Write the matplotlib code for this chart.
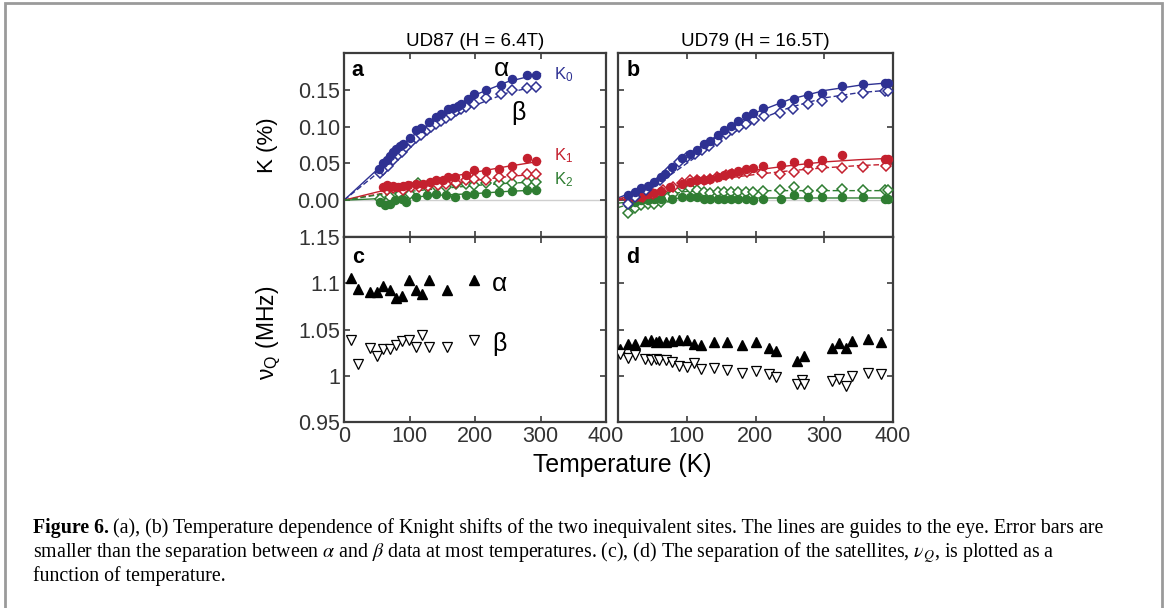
import numpy as np
import matplotlib
matplotlib.use("Agg")
import matplotlib.pyplot as plt
from matplotlib.patches import Rectangle

plt.rcParams['font.family'] = ['Liberation Sans', 'DejaVu Sans']
plt.rcParams['mathtext.fontset'] = 'stix'

# ---- Knight shift data, UD87 (panel a) ----
a_K0_alpha_T = [54, 59, 65, 70, 75, 80, 85, 90, 100, 110, 118, 130, 141, 148, 159, 166, 174, 179, 189, 199, 217, 239, 257, 279, 293]
a_K0_alpha = [0.043, 0.050, 0.054, 0.060, 0.065, 0.069, 0.073, 0.077, 0.085, 0.095, 0.098, 0.106, 0.113, 0.117, 0.124, 0.125, 0.128, 0.131, 0.137, 0.144, 0.150, 0.157, 0.164, 0.170, 0.170]
a_K0_beta_T = [55, 60, 67, 75, 83, 88, 95, 103, 110, 118, 126, 133, 141, 148, 156, 164, 171, 179, 187, 199, 217, 239, 257, 279, 293]
a_K0_beta = [0.037, 0.041, 0.047, 0.054, 0.061, 0.065, 0.072, 0.079, 0.085, 0.089, 0.095, 0.100, 0.104, 0.108, 0.112, 0.116, 0.121, 0.124, 0.127, 0.131, 0.139, 0.144, 0.150, 0.152, 0.154]
a_K1_alpha_T = [60, 65, 70, 75, 83, 90, 98, 110, 121, 131, 141, 151, 159, 169, 187, 199, 217, 237, 257, 279, 293]
a_K1_alpha = [0.018, 0.020, 0.018, 0.019, 0.018, 0.019, 0.020, 0.022, 0.022, 0.025, 0.027, 0.028, 0.031, 0.032, 0.034, 0.041, 0.040, 0.043, 0.047, 0.058, 0.053]
a_K1_beta_T = [65, 75, 90, 103, 115, 128, 143, 156, 171, 187, 199, 217, 237, 257, 279, 293]
a_K1_beta = [0.014, 0.016, 0.014, 0.018, 0.018, 0.019, 0.020, 0.022, 0.023, 0.027, 0.029, 0.027, 0.032, 0.034, 0.036, 0.036]
a_K2_alpha_T = [55, 62, 70, 78, 88, 95, 110, 126, 141, 156, 169, 187, 199, 217, 237, 257, 279, 293]
a_K2_alpha = [-0.002, -0.007, -0.005, 0.000, 0.002, -0.002, 0.005, 0.007, 0.008, 0.007, 0.005, 0.007, 0.009, 0.010, 0.011, 0.013, 0.014, 0.014]
a_K2_beta_T = [55, 70, 85, 100, 113, 126, 141, 156, 171, 187, 199, 217, 237, 257, 279, 293]
a_K2_beta = [0.001, 0.005, 0.009, 0.009, 0.023, 0.018, 0.019, 0.018, 0.022, 0.022, 0.020, 0.023, 0.023, 0.023, 0.025, 0.025]

# guide-to-the-eye curves for panel a
guide_T_a = [0, 50, 100, 150, 200, 250, 300]
a_K0_alpha_guide = [0, 0.041, 0.083, 0.117, 0.143, 0.161, 0.172]
a_K0_beta_guide = [0, 0.036, 0.073, 0.105, 0.129, 0.146, 0.156]
a_K1_alpha_guide = [0, 0.011, 0.021, 0.030, 0.038, 0.046, 0.053]
a_K1_beta_guide = [0, 0.008, 0.015, 0.021, 0.027, 0.032, 0.036]
a_K2_alpha_guide = [0, 0.002, 0.004, 0.007, 0.009, 0.012, 0.014]
a_K2_beta_guide = [0, 0.007, 0.012, 0.016, 0.020, 0.023, 0.025]

# ---- Knight shift data, UD79 (panel b) ----
b_K0_alpha_T = [14, 24, 34, 44, 53, 63, 68, 78, 93, 105, 115, 125, 134, 145, 154, 165, 175, 186, 196, 211, 237, 256, 276, 296, 326, 356, 388, 392]
b_K0_alpha = [0.007, 0.011, 0.016, 0.019, 0.025, 0.032, 0.036, 0.045, 0.058, 0.063, 0.068, 0.076, 0.081, 0.088, 0.095, 0.101, 0.108, 0.114, 0.119, 0.125, 0.132, 0.137, 0.143, 0.146, 0.155, 0.158, 0.159, 0.159]
b_K0_beta_T = [14, 24, 41, 61, 73, 88, 100, 112, 122, 132, 144, 157, 166, 176, 186, 198, 213, 235, 255, 277, 297, 326, 356, 388, 392]
b_K0_beta = [-0.005, 0.005, 0.014, 0.027, 0.038, 0.052, 0.059, 0.063, 0.068, 0.074, 0.081, 0.090, 0.095, 0.100, 0.104, 0.109, 0.115, 0.119, 0.124, 0.131, 0.135, 0.140, 0.146, 0.149, 0.148]
b_K1_alpha_T = [14, 24, 34, 44, 53, 63, 75, 93, 105, 115, 125, 134, 145, 154, 165, 175, 186, 196, 211, 237, 256, 276, 296, 326, 388, 392]
b_K1_alpha = [0.002, 0.005, 0.005, 0.008, 0.010, 0.013, 0.018, 0.022, 0.025, 0.027, 0.028, 0.029, 0.032, 0.034, 0.037, 0.040, 0.043, 0.044, 0.047, 0.048, 0.052, 0.051, 0.054, 0.061, 0.056, 0.056]
b_K1_beta_T = [36, 51, 66, 80, 93, 105, 115, 125, 134, 144, 157, 166, 176, 188, 210, 235, 256, 277, 297, 326, 356, 390]
b_K1_beta = [0.005, 0.008, 0.014, 0.018, 0.024, 0.027, 0.028, 0.028, 0.029, 0.031, 0.034, 0.036, 0.037, 0.038, 0.037, 0.036, 0.038, 0.043, 0.045, 0.044, 0.045, 0.047]
b_K2_alpha_T = [14, 24, 34, 44, 53, 63, 78, 93, 105, 115, 125, 134, 145, 154, 165, 175, 186, 196, 211, 237, 256, 276, 296, 326, 356, 388, 392]
b_K2_alpha = [-0.005, -0.002, 0.000, 0.000, 0.001, 0.001, 0.002, 0.004, 0.004, 0.004, 0.002, 0.002, 0.001, 0.001, 0.001, 0.001, 0.001, 0.000, 0.001, 0.002, 0.007, 0.004, 0.004, 0.004, 0.004, 0.002, 0.002]
b_K2_beta_T = [14, 24, 34, 44, 53, 63, 73, 80, 93, 105, 115, 125, 134, 145, 154, 165, 175, 186, 196, 211, 235, 256, 276, 296, 326, 356, 388, 392]
b_K2_beta = [-0.018, -0.011, -0.007, -0.005, -0.005, -0.002, 0.005, 0.008, 0.018, 0.016, 0.014, 0.011, 0.010, 0.011, 0.011, 0.011, 0.011, 0.011, 0.011, 0.013, 0.014, 0.018, 0.013, 0.014, 0.015, 0.014, 0.014, 0.014]

guide_T_b = [0, 50, 100, 150, 200, 250, 300, 350, 400]
b_K0_alpha_guide = [0.003, 0.022, 0.058, 0.092, 0.119, 0.137, 0.149, 0.156, 0.160]
b_K0_beta_guide = [0.000, 0.017, 0.050, 0.083, 0.108, 0.126, 0.139, 0.146, 0.150]
b_K1_alpha_guide = [0.002, 0.011, 0.022, 0.033, 0.041, 0.047, 0.052, 0.055, 0.057]
b_K1_beta_guide = [0.000, 0.009, 0.020, 0.029, 0.035, 0.040, 0.044, 0.047, 0.049]
b_K2_alpha_guide = [-0.004, 0.001, 0.003, 0.003, 0.003, 0.003, 0.003, 0.003, 0.003]
b_K2_beta_guide = [-0.010, 0.004, 0.012, 0.013, 0.013, 0.013, 0.013, 0.013, 0.013]

# ---- quadrupole frequency nu_Q ----
c_T = [11, 22, 39, 51, 60, 70, 79, 89, 99, 110, 119, 130, 158, 199]
c_alpha = [1.106, 1.094, 1.091, 1.091, 1.097, 1.093, 1.084, 1.086, 1.104, 1.093, 1.088, 1.104, 1.093, 1.103]
c_beta = [1.039, 1.013, 1.030, 1.021, 1.029, 1.029, 1.033, 1.038, 1.039, 1.031, 1.044, 1.031, 1.031, 1.039]

d_alpha_T = [3, 14, 24, 39, 48, 55, 60, 70, 79, 89, 100, 110, 120, 139, 159, 180, 201, 220, 230, 261, 270, 311, 321, 331, 341, 363, 382]
d_alpha = [1.029, 1.034, 1.034, 1.038, 1.039, 1.036, 1.038, 1.037, 1.038, 1.039, 1.039, 1.034, 1.033, 1.036, 1.036, 1.033, 1.036, 1.030, 1.027, 1.016, 1.021, 1.030, 1.035, 1.030, 1.038, 1.040, 1.036]
d_beta_T = [3, 14, 24, 39, 48, 55, 60, 70, 79, 89, 100, 110, 120, 139, 159, 180, 201, 220, 230, 261, 268, 270, 311, 321, 331, 341, 363, 382]
d_beta = [1.024, 1.019, 1.022, 1.018, 1.017, 1.018, 1.017, 1.017, 1.015, 1.011, 1.010, 1.014, 1.007, 1.008, 1.006, 1.003, 1.005, 1.002, 0.999, 0.991, 0.995, 0.991, 0.994, 0.997, 0.989, 1.000, 1.003, 1.002]

BLUE = '#2e3192'
RED = '#c4202e'
GREEN = '#2f7d32'
SPINE = '#3c3c3c'

W, H = 1165, 608
fig = plt.figure(figsize=(W / 100, H / 100), dpi=100)


def px_axes(x0, y0, x1, y1):
    return fig.add_axes([x0 / W, 1 - y1 / H, (x1 - x0) / W, (y1 - y0) / H])


ax_a = px_axes(344, 53, 606, 237)
ax_c = px_axes(344, 237, 606, 422)
ax_b = px_axes(618, 53, 893, 237)
ax_d = px_axes(618, 237, 893, 422)

for ax in (ax_a, ax_b, ax_c, ax_d):
    ax.set_xlim(0, 400)
    ax.set_xticks([0, 100, 200, 300, 400])
    for s in ax.spines.values():
        s.set_color(SPINE)
        s.set_linewidth(1.6)
    ax.tick_params(direction='in', top=True, right=True, length=4, width=1.2,
                   color=SPINE, labelsize=15.5, labelcolor='#333333', pad=3)

for ax in (ax_a, ax_b):
    ax.set_ylim(-0.05, 0.2)
    ax.set_yticks([0, 0.05, 0.10, 0.15])
    ax.tick_params(labelbottom=False)
    ax.axhline(0, color='#cfcfcf', lw=1.0, zorder=0)
for ax in (ax_c, ax_d):
    ax.set_ylim(0.95, 1.15)
    ax.set_yticks([0.95, 1.0, 1.05, 1.1, 1.15])

ax_a.set_yticklabels(['0.00', '0.05', '0.10', '0.15'])
ax_c.set_yticklabels(['0.95', '1', '1.05', '1.1', '1.15'])
ax_b.tick_params(labelleft=False)
ax_d.tick_params(labelleft=False)
ax_d.set_xticklabels(['', '100', '200', '300', '400'])

ms = 5.8
ms_d = 5.0


def knight(ax, T, K, color, filled):
    if filled:
        ax.plot(T, K, 'o', ms=ms, color=color, mec=color, zorder=3)
    else:
        ax.plot(T, K, 'D', ms=ms_d, mfc='white', mec=color, mew=1.1, zorder=3)


def guide(ax, T, K, color, dashed):
    ax.plot(T, K, color=color, lw=1.0, ls=(0, (4, 2)) if dashed else '-', zorder=2)


# panel a
for T, K, c, d in [(guide_T_a, a_K0_alpha_guide, BLUE, False), (guide_T_a, a_K0_beta_guide, BLUE, True),
                   (guide_T_a, a_K1_alpha_guide, RED, False), (guide_T_a, a_K1_beta_guide, RED, True),
                   (guide_T_a, a_K2_alpha_guide, GREEN, False), (guide_T_a, a_K2_beta_guide, GREEN, True)]:
    guide(ax_a, T, K, c, d)
knight(ax_a, a_K2_beta_T, a_K2_beta, GREEN, False)
knight(ax_a, a_K2_alpha_T, a_K2_alpha, GREEN, True)
knight(ax_a, a_K1_beta_T, a_K1_beta, RED, False)
knight(ax_a, a_K1_alpha_T, a_K1_alpha, RED, True)
knight(ax_a, a_K0_beta_T, a_K0_beta, BLUE, False)
knight(ax_a, a_K0_alpha_T, a_K0_alpha, BLUE, True)

# panel b
for T, K, c, d in [(guide_T_b, b_K0_alpha_guide, BLUE, False), (guide_T_b, b_K0_beta_guide, BLUE, True),
                   (guide_T_b, b_K1_alpha_guide, RED, False), (guide_T_b, b_K1_beta_guide, RED, True),
                   (guide_T_b, b_K2_alpha_guide, GREEN, False), (guide_T_b, b_K2_beta_guide, GREEN, True)]:
    guide(ax_b, T, K, c, d)
knight(ax_b, b_K2_beta_T, b_K2_beta, GREEN, False)
knight(ax_b, b_K2_alpha_T, b_K2_alpha, GREEN, True)
knight(ax_b, b_K1_beta_T, b_K1_beta, RED, False)
knight(ax_b, b_K1_alpha_T, b_K1_alpha, RED, True)
knight(ax_b, b_K0_beta_T, b_K0_beta, BLUE, False)
knight(ax_b, b_K0_alpha_T, b_K0_alpha, BLUE, True)

# panels c, d
ax_c.plot(c_T, c_alpha, '^', ms=6.5, color='black', zorder=3)
ax_c.plot(c_T, c_beta, 'v', ms=6.5, mfc='white', mec='black', mew=0.9, zorder=3)
ax_d.plot(d_alpha_T, d_alpha, '^', ms=6.5, color='black', zorder=3)
ax_d.plot(d_beta_T, d_beta, 'v', ms=6.5, mfc='white', mec='black', mew=0.9, zorder=3)

# annotations
for ax, lab in [(ax_a, 'a'), (ax_b, 'b')]:
    ax.text(12, 0.176, lab, fontsize=15.5, fontweight='bold', ha='left', va='center')
for ax, lab in [(ax_c, 'c'), (ax_d, 'd')]:
    ax.text(12, 1.128, lab, fontsize=15.5, fontweight='bold', ha='left', va='center')

ax_a.text(240, 0.178, 'α', fontsize=19, ha='center', va='center')
ax_a.text(266, 0.118, 'β', fontsize=18, ha='center', va='center')
ax_a.text(320, 0.171, r'K$_\mathregular{0}$', fontsize=12, color=BLUE, ha='left', va='center')
ax_a.text(320, 0.061, r'K$_\mathregular{1}$', fontsize=12, color=RED, ha='left', va='center')
ax_a.text(320, 0.028, r'K$_\mathregular{2}$', fontsize=12, color=GREEN, ha='left', va='center')
ax_c.text(237, 1.099, 'α', fontsize=19, ha='center', va='center')
ax_c.text(237, 1.034, 'β', fontsize=18, ha='center', va='center')

ax_a.set_title('UD87 (H = 6.4T)', fontsize=13.5, pad=5)
ax_b.set_title('UD79 (H = 16.5T)', fontsize=13.5, pad=5)

fig.text(268 / W, 1 - 145 / H, 'K (%)', fontsize=16, rotation=90, ha='center', va='center')
fig.text(268 / W, 1 - 333 / H, r'ν$_\mathregular{Q}$ (MHz)', fontsize=16.5, rotation=90,
         ha='center', va='center')
fig.text(622 / W, 1 - 465 / H, 'Temperature (K)', fontsize=17.8, ha='center', va='center')

# caption below the panels
cap_kw = dict(family='Liberation Serif', fontsize=14.35, va='baseline', ha='left')
r = fig.canvas.get_renderer()
t0 = fig.text(33 / W, 1 - 533 / H, 'Figure 6.', fontweight='bold', **cap_kw)
bb = t0.get_window_extent(renderer=r)
fig.text((bb.x1 + 4) / W, 1 - 533 / H,
         '(a), (b) Temperature dependence of Knight shifts of the two inequivalent sites. '
         'The lines are guides to the eye. Error bars are', **cap_kw)
fig.text(33 / W, 1 - 557 / H,
         r'smaller than the separation between $\alpha$ and $\beta$ data at most temperatures. '
         r'(c), (d) The separation of the satellites, $\nu_Q$, is plotted as a', **cap_kw)
fig.text(33 / W, 1 - 581 / H, 'function of temperature.', **cap_kw)

fig.patches.append(Rectangle((5 / W, -0.02), (1162 - 5) / W, 1.02 - 3 / H,
                             transform=fig.transFigure, fill=False,
                             edgecolor='#9a9a9a', lw=2))

fig.savefig('out.png', dpi=100)
